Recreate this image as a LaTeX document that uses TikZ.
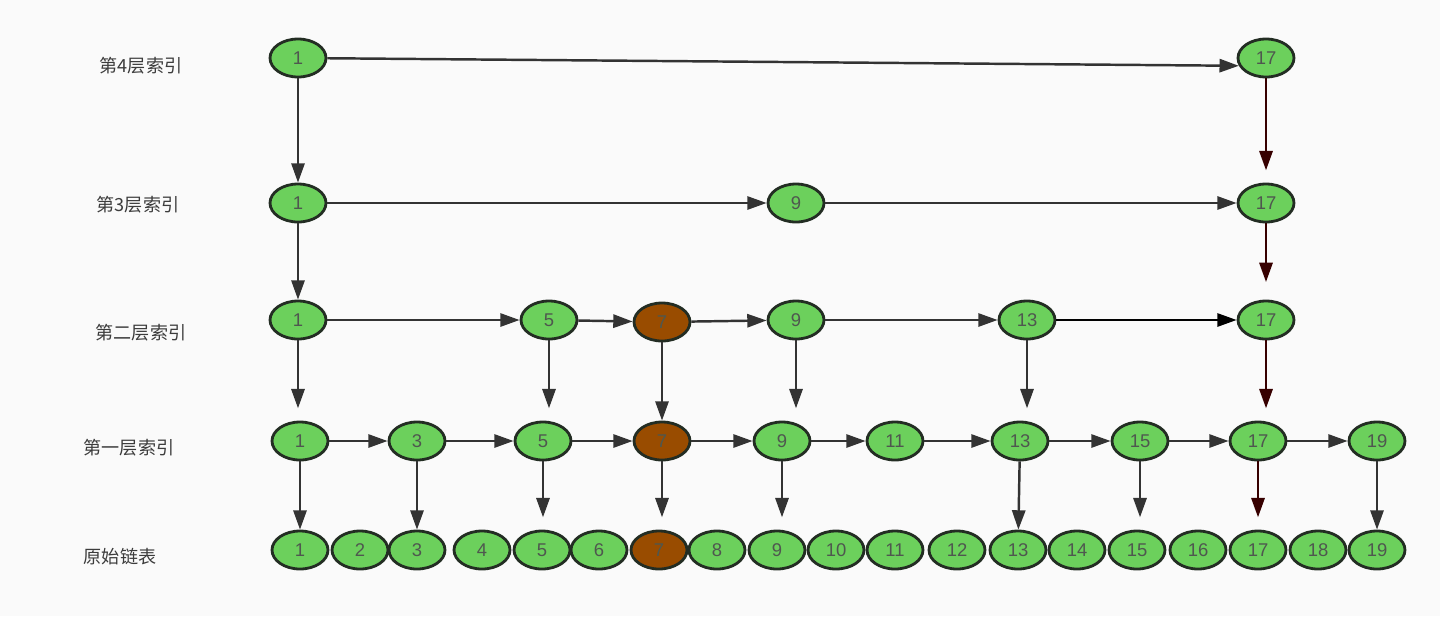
\documentclass[tikz,border=0pt]{standalone}
\usepackage{fontspec}
\setmainfont{Liberation Sans}
\newfontfamily\cjk{Noto Sans CJK SC}
\usetikzlibrary{shapes.geometric,arrows.meta,positioning}
\definecolor{bgcolor}{RGB}{250, 250, 250}
\definecolor{keycolor}{RGB}{108, 208, 92}
\definecolor{hitcolor}{RGB}{153, 76, 0}
\definecolor{rimcolor}{RGB}{35, 45, 35}
\definecolor{linecolor}{RGB}{51, 51, 51}
\definecolor{pathcolor}{RGB}{55, 0, 0}
\definecolor{labelcolor}{RGB}{60, 60, 60}
\tikzset{
  keynode/.style={draw=rimcolor, ellipse, line width=1.6pt, fill=keycolor, inner sep=0pt,
    minimum width=1.12cm, minimum height=0.76cm, text=rimcolor!80, font=\fontsize{10.5}{12}\selectfont},
  hitnode/.style={keynode, fill=hitcolor},
  levellabel/.style={font=\cjk\fontsize{10.3}{12}\selectfont, text=labelcolor},
  link/.style={draw=linecolor, line width=1.4pt, -{Triangle[length=11pt,width=7.5pt]}},
  gap/.style={shorten >=7pt},
  descent/.style={link, draw=pathcolor}
}

\begin{document}
\begin{tikzpicture}[x=0.02cm, y=-0.02cm]
    \fill[bgcolor] (0,0) rectangle (1440,616);
    \useasboundingbox (0,0) rectangle (1440,616);

    % Labels
    \node[levellabel] (lab4) at (141,66) {第4层索引};
    \node[levellabel] (lab3) at (138,205) {第3层索引};
    \node[levellabel] (lab2) at (141,333) {第二层索引};
    \node[levellabel] (lab1) at (129,448) {第一层索引};
    \node[levellabel] (lab0) at (120,557) {原始链表};

    % Level 4
    \node[keynode] (four1) at (298,58) {1};
    \node[keynode] (four17) at (1266,58) {17};

    % Level 3
    \node[keynode] (three1) at (298,203) {1};
    \node[keynode] (three9) at (796,203) {9};
    \node[keynode] (three17) at (1266,203) {17};

    % Level 2
    \node[keynode] (two1) at (298,320) {1};
    \node[keynode] (two5) at (549,320) {5};
    \node[hitnode] (two7) at (662,322) {7};
    \node[keynode] (two9) at (796,320) {9};
    \node[keynode] (two13) at (1027,320) {13};
    \node[keynode] (two17) at (1266,320) {17};

    % Level 1
    \node[keynode] (one1) at (300,441) {1};
    \node[keynode] (one3) at (417,441) {3};
    \node[keynode] (one5) at (543,441) {5};
    \node[hitnode] (one7) at (662,441) {7};
    \node[keynode] (one9) at (782,441) {9};
    \node[keynode] (one11) at (895,441) {11};
    \node[keynode] (one13) at (1020,441) {13};
    \node[keynode] (one15) at (1140,441) {15};
    \node[keynode] (one17) at (1258,441) {17};
    \node[keynode] (one19) at (1377,441) {19};

    % Original list
    \node[keynode] (raw1) at (300,550) {1};
    \node[keynode] (raw2) at (360,550) {2};
    \node[keynode] (raw3) at (417,550) {3};
    \node[keynode] (raw4) at (482,550) {4};
    \node[keynode] (raw5) at (542,550) {5};
    \node[keynode] (raw6) at (599,550) {6};
    \node[hitnode] (raw7) at (659,550) {7};
    \node[keynode] (raw8) at (717,550) {8};
    \node[keynode] (raw9) at (777,550) {9};
    \node[keynode] (raw10) at (836,550) {10};
    \node[keynode] (raw11) at (895,550) {11};
    \node[keynode] (raw12) at (957,550) {12};
    \node[keynode] (raw13) at (1018,550) {13};
    \node[keynode] (raw14) at (1077,550) {14};
    \node[keynode] (raw15) at (1137,550) {15};
    \node[keynode] (raw16) at (1198,550) {16};
    \node[keynode] (raw17) at (1258,550) {17};
    \node[keynode] (raw18) at (1318,550) {18};
    \node[keynode] (raw19) at (1377,550) {19};

    % Horizontal links
    \draw[link] (four1) -- (four17.196);
    \draw[link] (three1) -- (three9);
    \draw[link] (three9) -- (three17);
    \draw[link] (two1) -- (two5);
    \draw[link] (two5) -- (two7);
    \draw[link] (two7) -- (two9);
    \draw[link] (two9) -- (two13);
    \draw[link, draw=black] (two13) -- (two17);
    \draw[link] (one1) -- (one3);
    \draw[link] (one3) -- (one5);
    \draw[link] (one5) -- (one7);
    \draw[link] (one7) -- (one9);
    \draw[link] (one9) -- (one11);
    \draw[link] (one11) -- (one13);
    \draw[link] (one13) -- (one15);
    \draw[link] (one15) -- (one17);
    \draw[link] (one17) -- (one19);

    % Down links
    \draw[link] (four1) -- (four1 |- three1.north);
    \draw[descent, shorten >=7pt] (four17) -- (four17 |- three17.north);
    \draw[link] (three1) -- (three1 |- two1.north);
    \draw[descent, shorten >=10pt] (three17) -- (three17 |- two17.north);
    \draw[link, gap] (two1) -- (two1 |- one1.north);
    \draw[link, gap] (two5) -- (two5 |- one5.north);
    \draw[link] (two7) -- (two7 |- one7.north);
    \draw[link, gap] (two9) -- (two9 |- one9.north);
    \draw[link, gap] (two13) -- (two13 |- one13.north);
    \draw[descent, gap] (two17) -- (two17 |- one17.north);
    \draw[link] (one1) -- (one1 |- raw1.north);
    \draw[link] (one3) -- (one3 |- raw3.north);
    \draw[link, gap] (one5) -- (one5 |- raw5.north);
    \draw[link, gap] (one7) -- (one7 |- raw7.north);
    \draw[link, gap] (one9) -- (one9 |- raw9.north);
    \draw[link] (one13) -- (raw13);
    \draw[link, gap] (one15) -- (one15 |- raw15.north);
    \draw[descent, gap] (one17) -- (one17 |- raw17.north);
    \draw[link] (one19) -- (one19 |- raw19.north);
\end{tikzpicture}
\end{document}
